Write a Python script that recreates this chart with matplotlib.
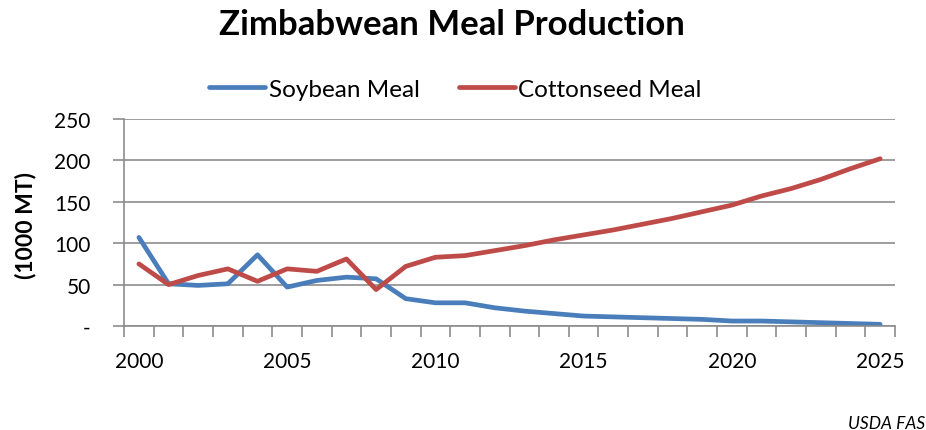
import numpy as np
import matplotlib
matplotlib.use("Agg")
import matplotlib.pyplot as plt
from matplotlib.ticker import FixedLocator, NullFormatter

years = np.arange(2000, 2026)
soybean = [107, 51, 49, 51, 86, 47, 55, 59, 57, 33, 28, 28, 22, 18, 15, 12,
           11, 10, 9, 8, 6, 6, 5, 4, 3, 2]
cottonseed = [75, 50, 61, 69, 54, 69, 66, 81, 44, 72, 83, 85, 91, 97, 104, 110,
              116, 123, 130, 138, 146, 157, 166, 177, 190, 202]
ytick_vals = [0, 50, 100, 150, 200, 250]
ytick_labels = ['-', '50', '100', '150', '200', '250']
xlabel_years = [2000, 2005, 2010, 2015, 2020, 2025]

plt.rcParams['font.family'] = ['Lato', 'DejaVu Sans']

fig = plt.figure(figsize=(9.26, 4.31), dpi=100)
ax = fig.add_axes([0.134, 0.2413, 0.8325, 0.4803])

ax.plot(years, soybean, color='#4a7ebb', lw=3.4, label='Soybean Meal',
        solid_capstyle='round', solid_joinstyle='round')
ax.plot(years, cottonseed, color='#be4b48', lw=3.4, label='Cottonseed Meal',
        solid_capstyle='round', solid_joinstyle='round')

ax.set_xlim(1999.5, 2025.5)
ax.set_ylim(0, 250)

ax.set_yticks(ytick_vals)
ax.set_yticklabels(ytick_labels, fontsize=15)
ax.yaxis.grid(True, color='#8c8c8c', lw=1.2)
ax.set_axisbelow(True)

# tick marks between categories, labels on the points
ax.xaxis.set_major_locator(FixedLocator(np.arange(1999.5, 2026, 1)))
ax.xaxis.set_major_formatter(NullFormatter())
ax.set_xticks(xlabel_years, minor=True)
ax.set_xticklabels([str(y) for y in xlabel_years], minor=True, fontsize=15)
ax.tick_params(axis='x', which='major', length=8, width=1.2, color='#8c8c8c')
ax.tick_params(axis='x', which='minor', length=0, pad=18)
ax.tick_params(axis='y', length=8, width=1.2, color='#8c8c8c', pad=16)

for s in ['top', 'right']:
    ax.spines[s].set_visible(False)
for s in ['left', 'bottom']:
    ax.spines[s].set_color('#8c8c8c')
    ax.spines[s].set_linewidth(1.2)

fig.text(0.028, 0.477, '(1000 MT)', fontsize=16.5, fontweight='bold',
         rotation=90, ha='center', va='center')

fig.text(0.488, 0.942, 'Zimbabwean Meal Production', fontsize=25,
         fontweight='bold', ha='center', va='center')
fig.legend(*ax.get_legend_handles_labels(), loc='center',
           bbox_to_anchor=(0.492, 0.791), ncol=2, frameon=False,
           fontsize=17.5, handlelength=2.3, handletextpad=0.15,
           columnspacing=1.6, borderpad=0)

fig.text(0.999, 0.005, 'USDA FAS', fontsize=12.5, style='italic',
         ha='right', va='baseline')

fig.savefig('out.png', dpi=100)
